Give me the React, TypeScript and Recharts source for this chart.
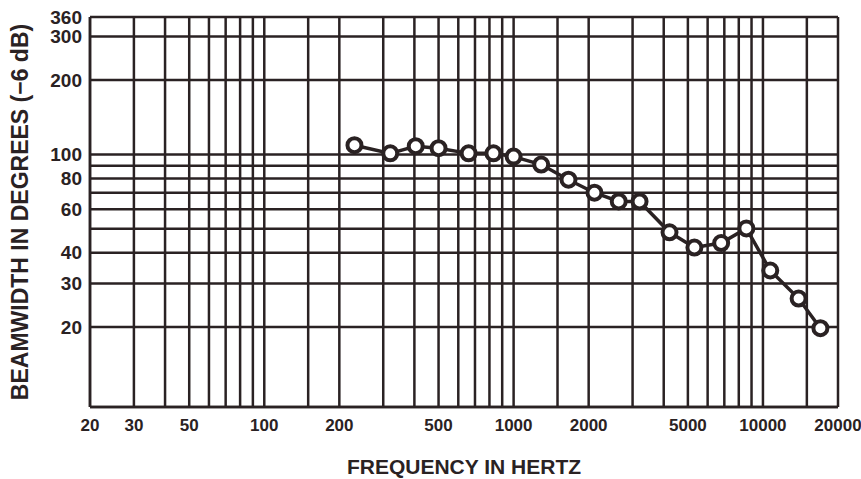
import React from 'react';
import { LineChart, Line, XAxis, YAxis, CartesianGrid, Label } from 'recharts';

// values
const frequencies = [230, 320, 405, 500, 660, 830, 1000, 1290, 1660, 2110, 2640, 3200, 4220, 5310, 6800, 8580, 10700, 13900, 17000];
const beamwidth = [109, 101, 108, 106, 101, 101, 98, 91, 79, 70, 64.5, 64.5, 48.4, 42, 43.8, 50.2, 33.9, 26.1, 19.8];

const xGridTicks = [20, 30, 40, 50, 60, 70, 80, 90, 100, 150, 200, 300, 400, 500, 600, 700, 800, 900, 1000, 1500, 2000, 3000, 4000, 5000, 6000, 7000, 8000, 9000, 10000, 15000, 20000];
const xTickLabels = [20, 30, 50, 100, 200, 500, 1000, 2000, 5000, 10000, 20000];
const yGridTicks = [20, 30, 40, 50, 60, 70, 80, 90, 100, 200, 300, 360];
const yTickLabels = [20, 30, 40, 60, 80, 100, 200, 300, 360];

const data = frequencies.map((f, i) => ({ f, bw: beamwidth[i] }));

const INK = '#2a2223';
const FONT = '"Liberation Sans", Arial, sans-serif';

export default function App() {
  return (
    <div style={{ position: 'absolute', left: 0, top: 0, width: 861, height: 479, background: '#fff' }}>
      <LineChart width={861} height={479} data={data} margin={{ top: 17, right: 23, left: 0, bottom: 0 }}>
        <CartesianGrid stroke={INK} strokeWidth={2.5} />
        <XAxis
          dataKey="f"
          type="number"
          scale="log"
          domain={[20, 20000]}
          allowDataOverflow
          ticks={xGridTicks}
          interval={0}
          tickFormatter={(v) => (xTickLabels.includes(v) ? String(v) : '')}
          tickLine={false}
          tickMargin={6}
          height={72}
          axisLine={{ stroke: INK, strokeWidth: 2.5 }}
          tick={{ fill: INK, fontSize: 17, fontWeight: 'bold', fontFamily: FONT }}
        >
          <Label
            value="FREQUENCY IN HERTZ"
            position="insideBottom"
            offset={5}
            fill={INK}
            fontSize={21}
            fontWeight="bold"
            fontFamily={FONT}
          />
        </XAxis>
        <YAxis
          dataKey="bw"
          type="number"
          scale="log"
          domain={[9.5, 360]}
          allowDataOverflow
          ticks={yGridTicks}
          interval={0}
          tickFormatter={(v) => (yTickLabels.includes(v) ? String(v) : '')}
          tickLine={false}
          width={90}
          axisLine={{ stroke: INK, strokeWidth: 2.5 }}
          tick={{ fill: INK, fontSize: 19, fontWeight: 'bold', fontFamily: FONT }}
        >
          <Label
            value="BEAMWIDTH IN DEGREES (−6 dB)"
            angle={-90}
            position="insideLeft"
            offset={20}
            fill={INK}
            fontSize={23}
            fontWeight="bold"
            fontFamily={FONT}
            style={{ textAnchor: 'middle' }}
          />
        </YAxis>
        <Line
          dataKey="bw"
          type="linear"
          stroke={INK}
          strokeWidth={3.5}
          dot={{ r: 7, fill: '#fff', stroke: INK, strokeWidth: 4 }}
          isAnimationActive={false}
        />
      </LineChart>
    </div>
  );
}
